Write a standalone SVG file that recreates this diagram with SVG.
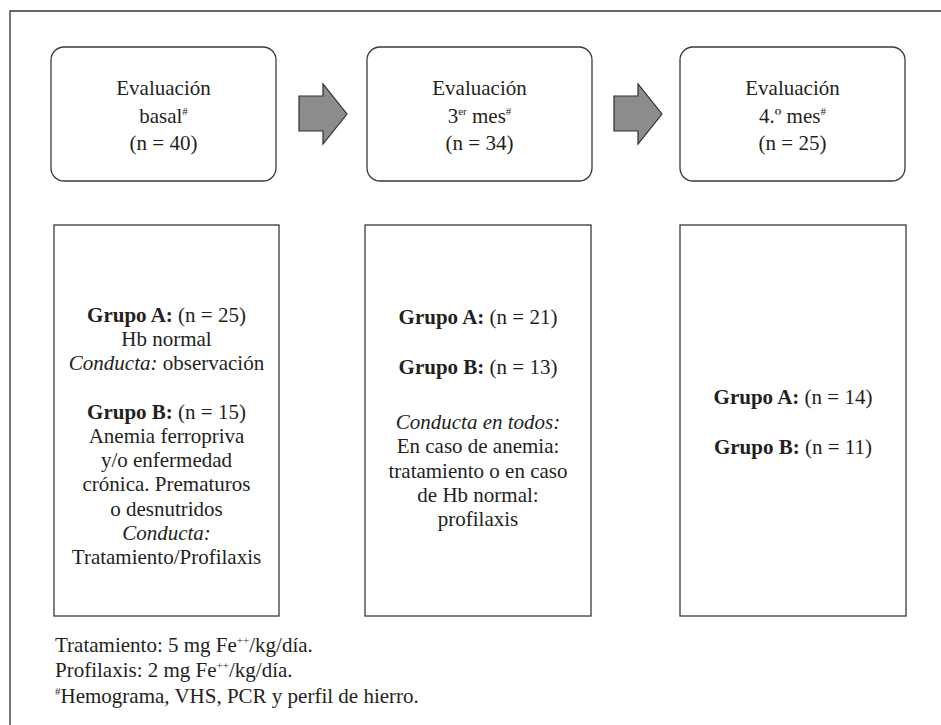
<svg xmlns="http://www.w3.org/2000/svg" width="941" height="725" viewBox="0 0 941 725">
<style>
text{font-family:"Liberation Serif","Times New Roman",serif;font-size:21px;fill:#231f20}
.c{text-anchor:middle}
.b{font-weight:bold}
.i{font-style:italic}
.sup{font-size:11px}
.box{fill:#fff;stroke:#3a3a3a;stroke-width:1.3}
.arrow{fill:#8c8c8d;stroke:#2e2e2e;stroke-width:1.2;stroke-linejoin:miter}
.frame{stroke:#333;stroke-width:1.3;fill:none}
</style>
<rect width="941" height="725" fill="#fff"/>
<path class="frame" d="M10,725 V11 H941"/>

<g id="eval-basal">
<rect class="box" x="51" y="47" width="225" height="134" rx="13"/>
<text class="c" x="163.5" y="95">Evaluación</text>
<text class="c" x="163.5" y="123">basal<tspan class="sup" dy="-8">#</tspan></text>
<text class="c" x="163.5" y="150">(n = 40)</text>
</g>
<g id="eval-3mes">
<rect class="box" x="367" y="47" width="225" height="134" rx="13"/>
<text class="c" x="479.5" y="95">Evaluación</text>
<text class="c" x="479.5" y="123">3<tspan class="sup" dy="-8">er</tspan><tspan dy="8"> mes</tspan><tspan class="sup" dy="-8">#</tspan></text>
<text class="c" x="479.5" y="150">(n = 34)</text>
</g>
<g id="eval-4mes">
<rect class="box" x="680" y="47" width="225" height="134" rx="13"/>
<text class="c" x="792.5" y="95">Evaluación</text>
<text class="c" x="792.5" y="123">4.º mes<tspan class="sup" dy="-8">#</tspan></text>
<text class="c" x="792.5" y="150">(n = 25)</text>
</g>

<g id="connectors">
<path class="arrow" d="M299,96 H323 V84 L347,114 L323,144 V131 H299 Z"/>
<path class="arrow" d="M614,96 H638 V84 L662,114 L638,144 V131 H614 Z"/>
</g>

<g id="grupos-basal">
<rect class="box" x="54" y="225" width="225" height="391"/>
<text class="c" x="166.5" y="322"><tspan class="b">Grupo A:</tspan> (n = 25)</text>
<text class="c" x="166.5" y="346.2">Hb normal</text>
<text class="c" x="166.5" y="370.4"><tspan class="i">Conducta:</tspan> observación</text>
<text class="c" x="166.5" y="418.8"><tspan class="b">Grupo B:</tspan> (n = 15)</text>
<text class="c" x="166.5" y="443">Anemia ferropriva</text>
<text class="c" x="166.5" y="467.2">y/o enfermedad</text>
<text class="c" x="166.5" y="491.4">crónica. Prematuros</text>
<text class="c" x="166.5" y="515.6">o desnutridos</text>
<text class="c i" x="166.5" y="539.8">Conducta:</text>
<text class="c" x="166.5" y="564">Tratamiento/Profilaxis</text>
</g>
<g id="grupos-3mes">
<rect class="box" x="365" y="225" width="226" height="391"/>
<text class="c" x="478" y="324"><tspan class="b">Grupo A:</tspan> (n = 21)</text>
<text class="c" x="478" y="374"><tspan class="b">Grupo B:</tspan> (n = 13)</text>
<text class="c i" x="478" y="429">Conducta en todos:</text>
<text class="c" x="478" y="453">En caso de anemia:</text>
<text class="c" x="478" y="477.5">tratamiento o en caso</text>
<text class="c" x="478" y="502">de Hb normal:</text>
<text class="c" x="478" y="526">profilaxis</text>
</g>
<g id="grupos-4mes">
<rect class="box" x="680" y="225" width="226" height="391"/>
<text class="c" x="793" y="404"><tspan class="b">Grupo A:</tspan> (n = 14)</text>
<text class="c" x="793" y="454"><tspan class="b">Grupo B:</tspan> (n = 11)</text>
</g>

<g id="notas">
<text x="55" y="652">Tratamiento: 5 mg Fe<tspan class="sup" dy="-8">++</tspan><tspan dy="8">/kg/día.</tspan></text>
<text x="55" y="677">Profilaxis: 2 mg Fe<tspan class="sup" dy="-8">++</tspan><tspan dy="8">/kg/día.</tspan></text>
<text x="55" y="703"><tspan class="sup" dy="-8">#</tspan><tspan dy="8">Hemograma, VHS, PCR y perfil de hierro.</tspan></text>
</g>
</svg>
